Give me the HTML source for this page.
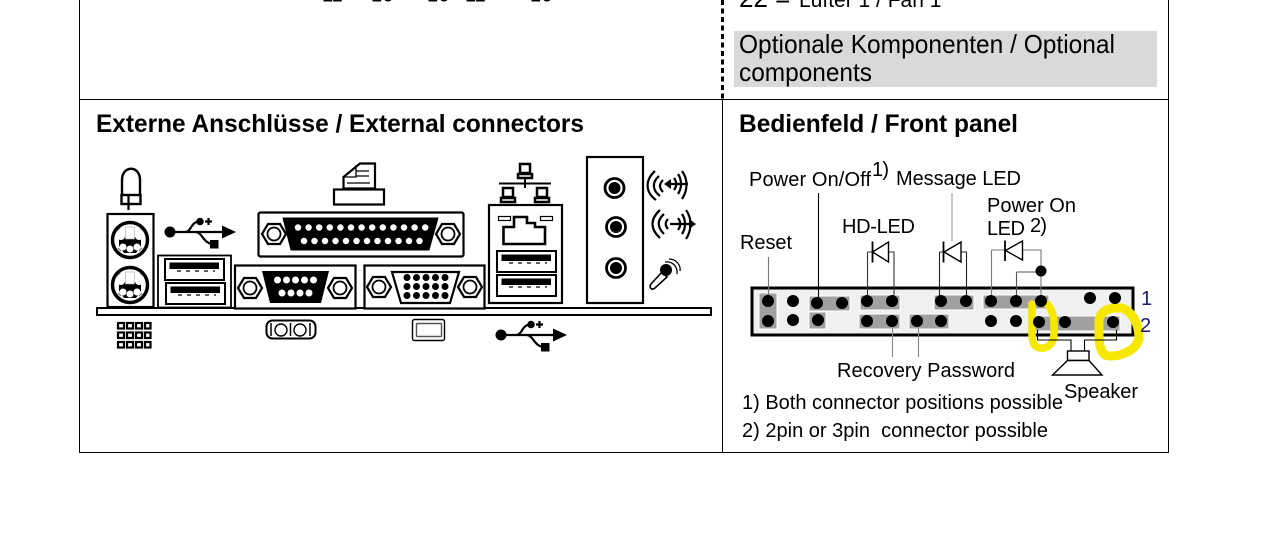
<!DOCTYPE html>
<html><head><meta charset="utf-8"><style>
html,body{margin:0;padding:0;background:#fff;width:1276px;height:537px;overflow:hidden}
svg{display:block}
text{font-family:"Liberation Sans",sans-serif;fill:#000}
.l{font-size:20px}
.b{font-size:25px;font-weight:bold}
.o{font-size:26px}
</style></head><body>
<svg width="1276" height="537" viewBox="0 0 1276 537" xmlns="http://www.w3.org/2000/svg">
<defs>
<g id="nut"><path d="M-12 0L-6-10H6L12 0L6 10H-6Z" fill="#fff" stroke="#000" stroke-width="2.200"/><circle r="6.500" fill="#fff" stroke="#000" stroke-width="1.800"/></g>
<g id="ps2"><circle r="17.500" fill="#fff" stroke="#000" stroke-width="3.500"/><path d="M-11-3H11V6L6 13H-6L-11 6Z" fill="#000"/><rect x="-4.500" y="-13" width="9" height="12" fill="#fff" stroke="#aaa" stroke-width=".6"/><circle cx="-9" cy="-4" r="4" fill="#fff"/><circle cx="9" cy="-4" r="4" fill="#fff"/><circle cx="-7" cy="7" r="3.500" fill="#fff"/><circle cx="7" cy="7" r="3.500" fill="#fff"/><circle cx="0" cy="9" r="3.500" fill="#fff"/><path d="M-13-9L-10-12M13-9L10-12M-12 8L-9 11M12 8L9 11" stroke="#666" stroke-width="1"/></g>
<g id="usb"><circle cx="0" cy="0" r="5.500" fill="#000"/><path d="M0 0H55M15 0C22 0 20-10.500 30-10.500M26 0C33 1 33 12 44 12" fill="none" stroke="#000" stroke-width="2.200"/><path d="M52-6.500L66 0L52 6.500Z" fill="#000"/><circle cx="30" cy="-10.500" r="3.800" fill="#000"/><path d="M35-10.500H42M38.500-14V-7" stroke="#000" stroke-width="2.200"/><rect x="40" y="8" width="8.500" height="8.500" fill="#000"/></g>
<g id="jack"><circle r="9.500" fill="#fff" stroke="#000" stroke-width="2.800"/><circle r="6" fill="#000"/></g>
<g id="port"><rect x="0" y="0" width="59" height="21" fill="#fff" stroke="#000" stroke-width="2"/><rect x="4.500" y="3.500" width="49.500" height="6.500" fill="#000"/><path d="M12 12H50" stroke="#000" stroke-width="1.200" stroke-dasharray="4 5"/></g>
<g id="pc"><rect x="2" y="0" width="10" height="9" fill="#fff" stroke="#000" stroke-width="2.500"/><rect x="0" y="10" width="14" height="4" fill="#fff" stroke="#000" stroke-width="2.500"/></g>
</defs>

<!-- table lines -->
<path d="M79.500 0V452.500M1168.500 0V452.500M79 99.500H1169M79 452.500H1169M722.500 99V452" fill="none" stroke="#000" stroke-width="1"/>
<path d="M722.500 0V99" fill="none" stroke="#000" stroke-width="3" stroke-dasharray="5 3.500"/>

<!-- cropped text at top -->
<text class="o" x="739" y="7">22 =</text>
<text x="799" y="7" style="font-size:21px">Lüfter 1 / Fan 1</text>
<text x="322" y="1.500" style="font-size:20px">11</text>
<text x="371" y="1.500" style="font-size:20px">16</text>
<text x="427" y="1.500" style="font-size:20px">16</text>
<text x="465" y="1.500" style="font-size:20px">11</text>
<text x="530" y="1.500" style="font-size:20px">16</text>

<rect x="734" y="31" width="423" height="56" fill="#d9d9d9"/>
<text class="o" x="739" y="53" textLength="376" lengthAdjust="spacingAndGlyphs">Optionale Komponenten / Optional</text>
<text class="o" x="739" y="81" textLength="133" lengthAdjust="spacingAndGlyphs">components</text>

<text class="b" x="96" y="132" textLength="488" lengthAdjust="spacingAndGlyphs">Externe Anschlüsse / External connectors</text>
<text class="b" x="739" y="132" textLength="279" lengthAdjust="spacingAndGlyphs">Bedienfeld / Front panel</text>

<!-- LED icon -->
<path d="M122 195V180C122 165 140 165 140 180V195" fill="none" stroke="#000" stroke-width="2.400"/>
<rect x="121.500" y="195" width="19" height="9" fill="#fff" stroke="#000" stroke-width="2.400"/>
<path d="M128.500 194V210" stroke="#000" stroke-width="2.200"/>

<!-- PS/2 -->
<rect x="107.500" y="214" width="46" height="93" fill="#fff" stroke="#000" stroke-width="2.200"/>
<use href="#ps2" x="130" y="240"/>
<use href="#ps2" x="130" y="285"/>

<!-- back plate -->
<rect x="97" y="308" width="614" height="7" fill="#fff" stroke="#000" stroke-width="2"/>

<!-- USB symbols -->
<use href="#usb" x="170" y="232"/>
<use href="#usb" x="501" y="335"/>

<!-- USB block -->
<rect x="158" y="255.500" width="73" height="52" fill="#fff" stroke="#000" stroke-width="1.800"/>
<use href="#port" x="165" y="259"/>
<use href="#port" x="166" y="283"/>

<!-- printer -->
<path d="M343.500 177L360 163.500H375V188.500H343.500Z" fill="#fff" stroke="#000" stroke-width="2.200"/>
<path d="M343.500 177H356V165M347 183H370M356 171H369M356 176H369" fill="none" stroke="#000" stroke-width="1.300"/>
<rect x="334" y="189.500" width="50" height="15" fill="#fff" stroke="#000" stroke-width="2.200"/>

<!-- parallel -->
<rect x="258.500" y="212.500" width="205" height="44" rx="2" fill="#fff" stroke="#000" stroke-width="2.200"/>
<use href="#nut" x="274" y="234"/><use href="#nut" x="448" y="234"/>
<path d="M283 218H438L429 250H291Z" fill="#000" stroke="#000" stroke-linejoin="round" stroke-width="1"/>
<path d="M298 227.500H426" stroke="#fff" stroke-width="6.500" stroke-linecap="round" stroke-dasharray="0 10.600"/>
<path d="M304 241H420" stroke="#fff" stroke-width="6.500" stroke-linecap="round" stroke-dasharray="0 10.500"/>

<!-- serial -->
<rect x="235" y="265.500" width="120.500" height="43" fill="#fff" stroke="#000" stroke-width="2.200"/>
<use href="#nut" x="250" y="288"/><use href="#nut" x="340" y="288"/>
<path d="M262 271H329L321 303H270Z" fill="#000"/>
<path d="M277.500 280H314" stroke="#fff" stroke-width="7" stroke-linecap="round" stroke-dasharray="0 9"/>
<path d="M282 293H310" stroke="#fff" stroke-width="7" stroke-linecap="round" stroke-dasharray="0 9"/>

<!-- VGA -->
<rect x="364.500" y="265.500" width="120" height="43" fill="#fff" stroke="#000" stroke-width="2.200"/>
<use href="#nut" x="379" y="287"/><use href="#nut" x="470" y="287"/>
<path d="M392 272H459L450 303H401Z" fill="#fff" stroke="#000" stroke-width="2.200"/>
<path d="M407 277.500H447M407 286.500H447M407 295.500H447" stroke="#000" stroke-width="7" stroke-linecap="round" stroke-dasharray="0 9.500"/>

<!-- network icon -->
<use href="#pc" x="518" y="164"/>
<path d="M499 183.500H551M525 178V188" stroke="#000" stroke-width="2"/>
<use href="#pc" x="501" y="188"/>
<use href="#pc" x="535" y="188"/>

<!-- LAN -->
<rect x="489" y="205" width="73" height="98" fill="#fff" stroke="#000" stroke-width="2.200"/>
<rect x="498.500" y="216.500" width="12" height="4" fill="#fff" stroke="#000" stroke-width="1.200"/>
<rect x="540.500" y="216.500" width="12" height="4" fill="#fff" stroke="#000" stroke-width="1.200"/>
<path d="M503.500 244V227H514V217H527V223H535V227H545V244Z" fill="#fff" stroke="#000" stroke-width="2.600"/>
<use href="#port" x="497" y="251"/>
<use href="#port" x="497" y="275"/>

<!-- audio -->
<rect x="587" y="157" width="56" height="146" fill="#fff" stroke="#000" stroke-width="2.200"/>
<use href="#jack" x="614.500" y="188"/>
<use href="#jack" x="616" y="227"/>
<use href="#jack" x="616" y="268"/>
<g fill="none" stroke="#000" stroke-width="2.200">
<path d="M655 171C645 180 645 192 656 200M659 176C652 182 652 190 660 196M663 180C659 184 659 188 663 192"/>
<path d="M668 184H688M678 174C682 180 682 188 678 194M682 171C688 179 688 190 682 199M674 178C677 182 677 186 674 190"/>
<path d="M660 210C650 219 650 229 660 238M664 214C657 220 657 227 664 234M668 219C665 222 665 226 668 229"/>
<path d="M670 224H690M682 214C686 220 686 228 682 234M686 210C692 218 692 230 686 239M678 218C681 222 681 226 678 230"/>
</g>
<path d="M664 184L671 179V189ZM696 224L689 219V229Z" fill="#000"/>
<path d="M651 284L662 272L667 277L655 288C651 291 649 287 651 284Z" fill="#fff" stroke="#000" stroke-width="1.600"/>
<circle cx="666" cy="270" r="6" fill="#000"/>
<path d="M665 262C672 261 678 266 677 274M669 259C676 259 681 265 680 271" fill="none" stroke="#000" stroke-width="1.300"/>

<!-- bottom icons -->
<g fill="#fff" stroke="#000" stroke-width="2.200">
<rect x="118" y="323" width="6" height="5.500"/><rect x="127" y="323" width="6" height="5.500"/><rect x="136" y="323" width="6" height="5.500"/><rect x="145" y="323" width="5.500" height="5.500"/>
<rect x="118" y="332.500" width="6" height="5.500"/><rect x="127" y="332.500" width="6" height="5.500"/><rect x="136" y="332.500" width="6" height="5.500"/><rect x="145" y="332.500" width="5.500" height="5.500"/>
<rect x="118" y="342" width="6" height="5.500"/><rect x="127" y="342" width="6" height="5.500"/><rect x="136" y="342" width="6" height="5.500"/><rect x="145" y="342" width="5.500" height="5.500"/>
</g>
<rect x="266.500" y="320.500" width="49" height="18" rx="6" fill="#fff" stroke="#000" stroke-width="2"/>
<circle cx="281" cy="330" r="6" fill="none" stroke="#000" stroke-width="1.400"/>
<circle cx="300" cy="330" r="6" fill="none" stroke="#000" stroke-width="1.400"/>
<path d="M271 323V336M290.500 323V336M310 323V336" stroke="#000" stroke-width="1.500"/>
<rect x="412.500" y="319.500" width="32" height="21" rx="2" fill="#fff" stroke="#000" stroke-width="1.400"/>
<rect x="416.500" y="323.500" width="25" height="13" rx="1" fill="#fff" stroke="#555" stroke-width="1.400"/>

<!-- front panel -->
<rect x="752" y="288" width="381" height="47" fill="#f0f0f0" stroke="#000" stroke-width="3"/>
<g fill="#a0a0a0" stroke="#fff" stroke-width="1">
<rect x="759" y="293" width="18" height="36"/>
<rect x="809" y="296" width="41" height="15"/>
<rect x="809" y="312" width="17" height="17"/>
<rect x="860" y="295" width="40" height="15"/>
<rect x="934" y="295" width="40" height="15"/>
<rect x="983" y="295" width="66" height="14"/>
<rect x="859" y="314" width="41" height="15"/>
<rect x="909" y="314" width="40" height="15"/>
<rect x="1031" y="316" width="89" height="15"/>
</g>

<!-- yellow marks -->
<g fill="none" stroke="#f6e800" stroke-linecap="round" stroke-linejoin="round">
<path stroke-width="7.500" d="M1032 304V335C1032 346 1037 349 1044 348C1052 346 1055 340 1054 325C1054 314 1050 305 1045 303"/>
<path stroke-width="9" d="M1099 320C1101 310 1110 307 1122 308C1133 312 1139 325 1139 338C1137 350 1122 356 1110 356C1102 356 1099 348 1099 335Z"/>
</g>

<!-- panel leader lines -->
<g fill="none" stroke-width="1.100">
<path d="M768.500 257V296" stroke="#777"/>
<path d="M818.500 193V297" stroke="#000"/>
<path d="M952 193V241" stroke="#999"/>
<path d="M867.500 252H872M889 252H894V296M867.500 252V296" stroke="#333"/>
<path d="M939.500 252H944M961 252H966.500V296M939.500 252V296" stroke="#222"/>
<path d="M991.500 250H1005M1023 250H1041V296M991.500 250V296" stroke="#777"/>
<path d="M1016.500 272H1041M1016.500 272V296" stroke="#555"/>
<path d="M892.500 328V357M918.500 328V357" stroke="#888"/>
<path d="M1037.500 330V340H1071V351M1116.500 330V340H1084.500V351" stroke="#000"/>
</g>

<g fill="#000">
<circle cx="768" cy="301" r="6"/><circle cx="793" cy="301" r="6"/><circle cx="817" cy="303" r="6"/><circle cx="842" cy="303" r="6"/><circle cx="867" cy="301" r="6"/><circle cx="892" cy="301" r="6"/><circle cx="941" cy="301" r="6"/><circle cx="966" cy="301" r="6"/><circle cx="991" cy="301" r="6"/><circle cx="1016" cy="301" r="6"/><circle cx="1041" cy="301" r="6"/><circle cx="1090" cy="298" r="6"/><circle cx="1115" cy="298" r="6"/>
<circle cx="768" cy="321" r="6"/><circle cx="793" cy="320" r="6"/><circle cx="818" cy="320" r="6"/><circle cx="867" cy="321" r="6"/><circle cx="892" cy="321" r="6"/><circle cx="917" cy="321" r="6"/><circle cx="941" cy="321" r="6"/><circle cx="991" cy="321" r="6"/><circle cx="1016" cy="321" r="6"/><circle cx="1039" cy="322" r="6"/><circle cx="1065" cy="322" r="6"/><circle cx="1113" cy="322" r="6"/>
<circle cx="1041" cy="271" r="5.500"/>
</g>

<g fill="#fff" stroke="#000" stroke-width="1.400">
<path d="M888.500 242V262L872.500 252Z"/><path d="M872.500 241.500V262.500" fill="none" stroke-width="1.800"/>
<path d="M961 242V262L944 252Z"/><path d="M943.500 241.500V262.500" fill="none" stroke-width="1.800"/>
<path d="M1022.500 241V260L1005.500 250.500Z"/><path d="M1005 240.500V261" fill="none" stroke-width="1.800"/>
<rect x="1067.500" y="351" width="21.500" height="9.500"/>
<path d="M1067.500 360.500L1052.500 375H1102L1089 360.500Z" fill="#fff"/>
</g>

<!-- panel labels -->
<text class="l" x="749" y="186" textLength="122">Power On/Off</text>
<text class="l" x="872" y="176" textLength="17">1)</text>
<text class="l" x="896" y="185" textLength="125">Message LED</text>
<text class="l" x="842" y="233" textLength="73">HD-LED</text>
<text class="l" x="987" y="212" textLength="89">Power On</text>
<text class="l" x="987" y="235" textLength="38">LED</text>
<text class="l" x="1030" y="232" textLength="17">2)</text>
<text class="l" x="740" y="249" textLength="52">Reset</text>
<text class="l" x="1141" y="305" style="fill:#1a1a6e">1</text>
<text class="l" x="1140" y="332" style="fill:#1a1a6e">2</text>
<text class="l" x="837" y="377" textLength="178">Recovery Password</text>
<text class="l" x="1064" y="398" textLength="74">Speaker</text>
<text class="l" x="742" y="409" textLength="321">1) Both connector positions possible</text>
<text class="l" x="742" y="437" textLength="306" xml:space="preserve">2) 2pin or 3pin  connector possible</text>
</svg>
</body></html>
